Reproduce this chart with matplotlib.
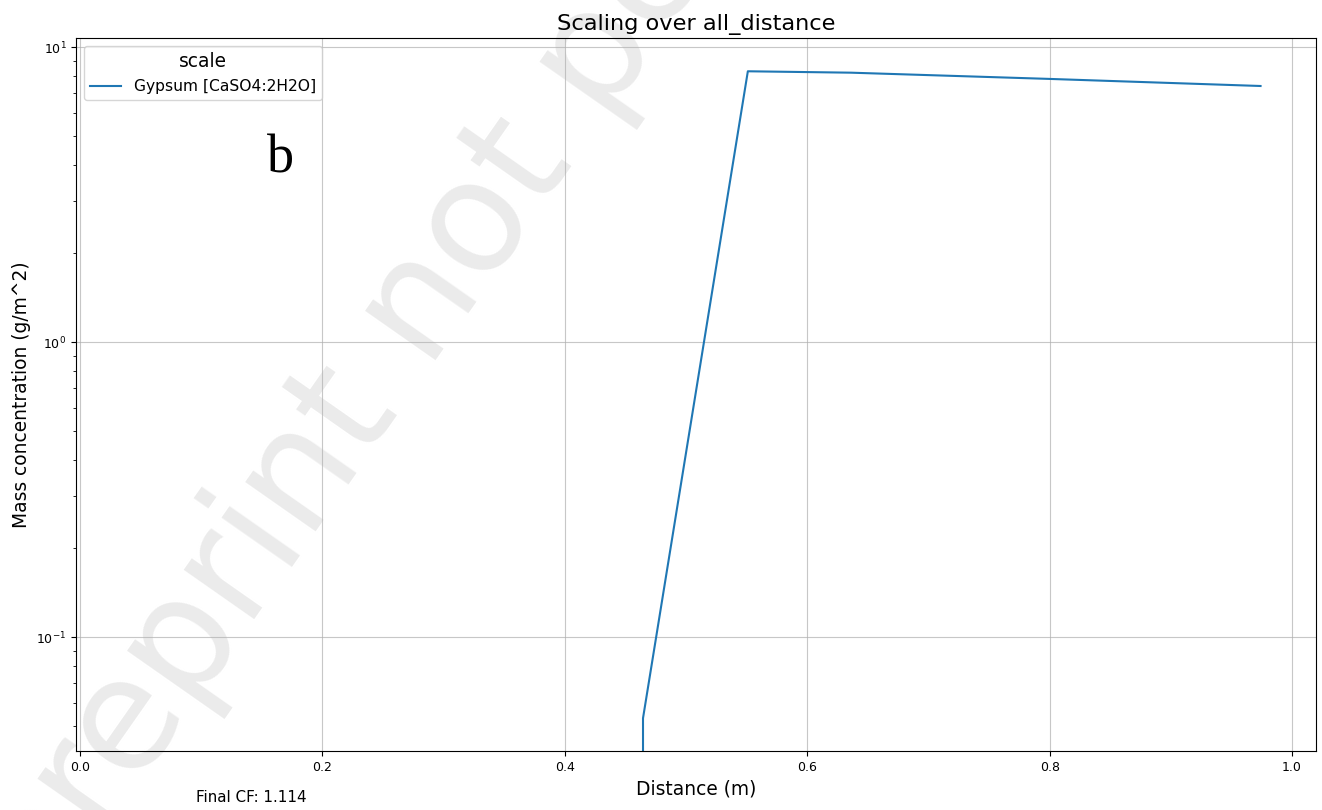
import matplotlib
matplotlib.use("Agg")
import matplotlib.pyplot as plt

# Gypsum scale profile (distance in m, g/m^2)
distance = [0.4645, 0.4645, 0.551, 0.636, 0.80, 0.974]
gypsum = [0.0, 0.0531, 8.29, 8.20, 7.81, 7.39]
series_label = "Gypsum [CaSO4:2H2O]"
final_cf = 1.114

fig = plt.figure(figsize=(13.22, 8.10), dpi=100)
ax = fig.add_axes([0.0575, 0.0728, 0.938, 0.880])
ax.patch.set_alpha(0)

# watermark behind everything
fig.text(0.033, -0.136, "preprint not peer reviewed", rotation=55,
         rotation_mode="anchor", ha="left", va="baseline",
         fontsize=112, color="#ebebeb", zorder=-5)

ax.plot(distance, gypsum, color="#1f77b4", linewidth=1.5, label=series_label)
ax.set_yscale("log")
ax.set_xlim(-0.0033, 1.0198)
ax.set_ylim(0.0411, 10.73)
ax.grid(True, color="#b0b0b0", alpha=0.7)
ax.tick_params(labelsize=9)

ax.set_title("Scaling over all_distance", fontsize=16.2)
ax.set_xlabel("Distance (m)", fontsize=13.4)
ax.set_ylabel("Mass concentration (g/m^2)", fontsize=13.4)

leg = ax.legend(title="scale", loc="upper left", fontsize=11.2,
                title_fontsize=13.4)

ax.text(0.165, 0.830, "b", transform=ax.transAxes, ha="center", va="center",
        fontsize=39, family="Liberation Serif")

fig.text(0.19, 0.006, f"Final CF: {final_cf}", ha="center", va="bottom",
         fontsize=10.9)

fig.savefig("out.png", dpi=100)
